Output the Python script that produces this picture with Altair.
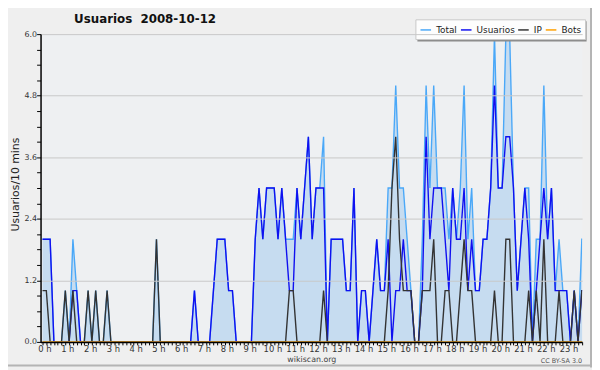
import altair as alt
import pandas as pd

# values per 10-minute slot, one row per hour (6 slots)
usuarios_rows = [
    [2, 2, 2, 0, 0, 0], [0, 0, 1, 1, 0, 0], [0, 0, 0, 0, 0, 0], [0, 0, 0, 0, 0, 0],
    [0, 0, 0, 0, 0, 0], [0, 0, 0, 0, 0, 0], [0, 0, 0, 0, 1, 0], [0, 0, 0, 1, 2, 2],
    [2, 1, 1, 0, 0, 0], [0, 0, 2, 3, 2, 3], [3, 3, 2, 3, 2, 1], [1, 3, 2, 3, 4, 2],
    [3, 3, 3, 0, 2, 2], [2, 2, 1, 1, 3, 0], [1, 1, 0, 1, 2, 1], [1, 2, 0, 1, 1, 2],
    [1, 1, 0, 0, 1, 4], [2, 3, 3, 3, 2, 1], [3, 2, 2, 3, 1, 2], [1, 1, 2, 2, 3, 5],
    [3, 3, 4, 4, 3, 1], [2, 3, 2, 0, 1, 2], [3, 2, 3, 1, 1, 1], [1, 0, 1, 0, 1, 1],
]
ip_rows = [
    [1, 1, 0, 0, 0, 0], [1, 0, 1, 0, 0, 0], [1, 0, 1, 0, 0, 1], [0, 0, 0, 0, 0, 0],
    [0, 0, 0, 0, 0, 0], [2, 0, 0, 0, 0, 0], [0, 0, 0, 0, 0, 0], [0, 0, 0, 0, 0, 0],
    [0, 0, 0, 0, 0, 0], [0, 0, 0, 0, 0, 0], [0, 0, 0, 0, 0, 1], [1, 0, 0, 0, 0, 0],
    [0, 0, 1, 0, 0, 0], [0, 0, 0, 0, 0, 0], [0, 0, 0, 0, 0, 0], [0, 1, 3, 4, 2, 1],
    [1, 1, 0, 0, 1, 1], [1, 2, 0, 0, 1, 1], [0, 0, 1, 2, 1, 1], [0, 0, 0, 0, 0, 1],
    [0, 0, 2, 2, 0, 0], [0, 0, 1, 0, 1, 0], [2, 0, 0, 0, 1, 0], [0, 0, 1, 0, 1, 1],
]
total_rows = [
    [2, 2, 2, 0, 0, 0], [1, 0, 2, 1, 0, 0], [1, 0, 1, 0, 0, 1], [0, 0, 0, 0, 0, 0],
    [0, 0, 0, 0, 0, 0], [2, 0, 0, 0, 0, 0], [0, 0, 0, 0, 1, 0], [0, 0, 0, 1, 2, 2],
    [2, 1, 1, 0, 0, 0], [0, 0, 2, 3, 2, 3], [3, 3, 2, 3, 2, 2], [2, 3, 2, 3, 4, 2],
    [3, 3, 4, 0, 2, 2], [2, 2, 1, 1, 3, 0], [1, 1, 0, 1, 2, 1], [1, 3, 3, 5, 3, 3],
    [2, 1, 0, 0, 2, 5], [3, 5, 3, 3, 3, 2], [3, 2, 3, 5, 2, 3], [1, 1, 2, 2, 3, 6],
    [3, 3, 6, 6, 3, 1], [2, 3, 3, 0, 2, 2], [5, 2, 3, 1, 2, 1], [1, 0, 1, 0, 2, 2],
]
bots_rows = [[0, 0, 0, 0, 0, 0] for _ in range(24)]

series_names = ["Total", "Usuarios", "IP", "Bots"]
series_colors = ["#4aa8f8", "#1010f0", "#333333", "#ffa000"]
title_text = "Usuarios\u00a0\u00a02008-10-12"
credit_text = "CC BY-SA 3.0"

def flat(rows):
    return [v for r in rows for v in r]

records = []
for name, rows in zip(series_names, [total_rows, usuarios_rows, ip_rows, bots_rows]):
    for i, v in enumerate(flat(rows)):
        records.append({"i": i, "series": name, "value": v})
df = pd.DataFrame(records)

major = "abs(datum.value/1.2 - round(datum.value/1.2)) < 0.01"
FONT = "DejaVu Sans"

x_enc = alt.X(
    "i:Q",
    scale=alt.Scale(domain=[-0.52, 142.08], nice=False, zero=False),
    axis=alt.Axis(
        values=list(range(0, 143)),
        labelExpr="datum.value % 6 == 0 ? (datum.value/6) + ' h' : ''",
        labelOverlap=False, labelFlush=False, labelBound=False,
        tickSize=3, tickColor="#000000", domainColor="#000000", domainWidth=1.5,
        labelFontSize=8.5, labelPadding=0, labelOffset=2, labelColor="#333333",
        labelFont=FONT,
        grid=False, title="wikiscan.org", titleFontSize=8, titleFontWeight="normal",
        titleColor="#444444", titleY=18, titleBaseline="middle", zindex=1,
        titleFont=FONT,
    ),
)
y_enc = alt.Y(
    "value:Q",
    scale=alt.Scale(domain=[0, 6], nice=False),
    axis=alt.Axis(
        values=[round(0.3 * k, 1) for k in range(21)],
        format=".1f",
        labelExpr=f"{major} ? datum.label : ''",
        gridOpacity={"condition": {"test": major, "value": 1}, "value": 0},
        gridColor="#c8c8c8", tickSize=4, tickColor="#000000",
        domainColor="#000000", domainWidth=1.5, labelFontSize=8, labelPadding=0,
        labelColor="#333333", labelOverlap=False, labelFont=FONT,
        title="Usuarios/10 mins", titleFontSize=11, titleFontWeight="normal",
        titleColor="#222222", titleX=-20, titleY=152, titleAlign="center",
        titleBaseline="bottom", titleFont=FONT,
        zindex=1,
    ),
)

color_scale = alt.Scale(domain=series_names, range=series_colors)
legend = alt.Legend(
    title=None, orient="none", legendX=380, legendY=-15, direction="horizontal",
    symbolType="stroke", symbolSize=115, symbolStrokeWidth=1.5,
    labelFontSize=9, labelColor="#222222", columnPadding=0, symbolOffset=0,
    labelOffset=4, padding=4, fillColor="#fdfdfd", strokeColor="#c8c8c8",
    labelFont=FONT,
)

base = alt.Chart(df)

area = base.transform_filter(alt.datum.series == "Total").mark_area(
    color="#c6dcf0", opacity=1, clip=True
).encode(x=x_enc, y=y_enc)

def line_layer(name):
    return base.transform_filter(alt.datum.series == name).mark_line(
        strokeWidth=1.4, clip=True
    ).encode(
        x=x_enc, y=y_enc,
        color=alt.Color("series:N", scale=color_scale, legend=legend),
    )

one = pd.DataFrame({"a": [0]})
shadow = alt.Chart(one).mark_rect(color="#8a8a8a").encode(
    x=alt.value(382), x2=alt.value(553.5), y=alt.value(-13), y2=alt.value(7.5)
)
frame_right = alt.Chart(one).mark_rule(color="#b4b4b4", strokeWidth=2).encode(
    x=alt.value(558), y=alt.value(-40), y2=alt.value(338)
)
frame_bottom = alt.Chart(one).mark_rule(color="#b4b4b4", strokeWidth=2).encode(
    x=alt.value(-40), x2=alt.value(560), y=alt.value(336)
)

title = alt.Chart(pd.DataFrame({"t": [title_text]})).mark_text(
    align="left", baseline="middle", fontSize=12, fontWeight="bold",
    color="#111111", font=FONT,
).encode(x=alt.value(34), y=alt.value(-15), text="t:N")

cc = alt.Chart(pd.DataFrame({"t": [credit_text]})).mark_text(
    align="right", baseline="middle", fontSize=6.5, color="#555555",
    font=FONT,
).encode(x=alt.value(549), y=alt.value(331), text="t:N")

chart = alt.layer(
    area, line_layer("Total"), line_layer("Usuarios"), line_layer("IP"),
    line_layer("Bots"), shadow, title, cc, frame_right, frame_bottom,
).properties(
    width=549, height=312,
    autosize=alt.AutoSizeParams(type="none"),
    padding={"left": 33, "top": 24, "right": 10, "bottom": 26},
).configure(
    background="#efefef",
).configure_view(
    fill="#eef0f2", stroke=None,
)

chart.save("out.html", embed_options={"renderer": "svg", "actions": False})
